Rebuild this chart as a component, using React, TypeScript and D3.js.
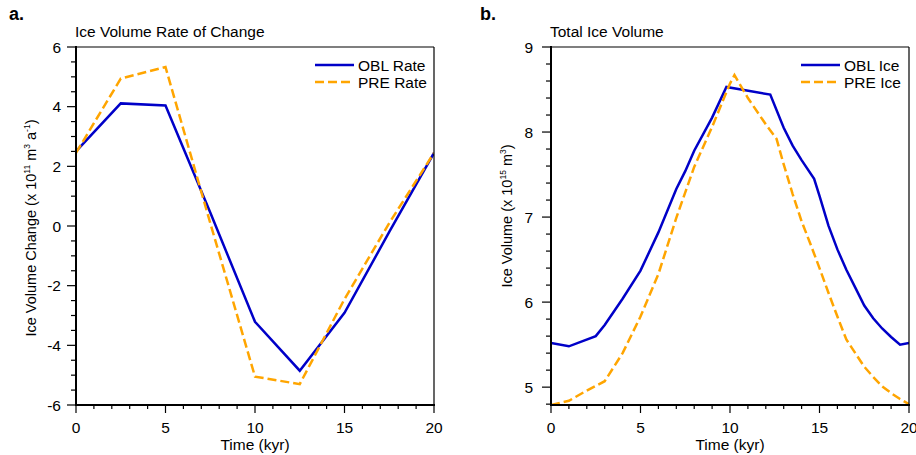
import React, { useEffect, useRef } from 'react';
import * as d3 from 'd3';

// panel a: rate of change (x 10^11 m^3 a^-1)
const rateTime = [0, 2.5, 5, 7.5, 10, 12.5, 15, 17.5, 20];
const oblRate = [2.5, 4.11, 4.04, 0.45, -3.21, -4.85, -2.91, -0.2, 2.45];
const preRate = [2.45, 4.94, 5.33, 0.1, -5.05, -5.3, -2.45, 0.1, 2.45];

// panel b: total ice volume (x 10^15 m^3)
const oblIceTime = [0, 1, 2.5, 3, 4, 5, 6, 7, 7.5, 8, 9, 9.8, 12.25, 13, 13.5, 14, 14.7, 15, 15.5, 16, 16.5, 17, 17.5, 18, 18.5, 19, 19.5, 20];
const oblIce = [5.52, 5.48, 5.6, 5.73, 6.04, 6.37, 6.82, 7.33, 7.54, 7.78, 8.17, 8.53, 8.44, 8.05, 7.84, 7.67, 7.45, 7.25, 6.9, 6.62, 6.38, 6.17, 5.96, 5.81, 5.69, 5.59, 5.5, 5.52];
const preIceTime = [0, 1, 2, 3, 4, 5, 6, 7, 8, 9, 10, 10.25, 11, 12, 12.6, 13, 13.5, 14, 14.5, 15, 15.5, 16, 16.5, 17, 17.5, 18, 18.5, 19, 19.5, 20];
const preIce = [4.79, 4.84, 4.96, 5.07, 5.4, 5.83, 6.33, 6.99, 7.59, 8.06, 8.57, 8.67, 8.4, 8.09, 7.92, 7.62, 7.27, 6.95, 6.68, 6.4, 6.11, 5.83, 5.56, 5.4, 5.24, 5.12, 5.01, 4.93, 4.86, 4.8];

const xTicks = [0, 5, 10, 15, 20];
const rateTicks = [-6, -4, -2, 0, 2, 4, 6];
const iceTicks = [5, 6, 7, 8, 9];

const BLUE = '#0000C8';
const ORANGE = '#FFA500';
const FONT = 'Liberation Sans, Arial, Helvetica, sans-serif';
const FS = 15.5;

type Panel = {
  left: number;
  right: number;
  yDomain: [number, number];
  yMajor: number[];
  yMinorStep: number;
  yMinorStart: number;
  letter: string;
  letterX: number;
  title: string;
  labelRight: number;
  yLabelX: number;
  yLabelY: number;
  yLabel: [string, string][];
  series: { t: number[]; v: number[]; color: string; dash: string | null; name: string }[];
  legendX: number;
};

const App = () => {
  const svgRef = useRef<SVGSVGElement>(null);

  useEffect(() => {
    const svg = d3.select(svgRef.current);
    svg.selectAll('*').remove();

    const top = 47;
    const bottom = 405;

    const panels: Panel[] = [
      {
        left: 76, right: 434, yDomain: [-6, 6], yMajor: rateTicks, yMinorStep: 0.5, yMinorStart: -6,
        letter: 'a.', letterX: 9, title: 'Ice Volume Rate of Change', labelRight: 61,
        yLabelX: 36, yLabelY: 228,
        yLabel: [['Ice Volume Change (x 10', ''], ['11', 'sup'], [' m', ''], ['3', 'sup'], [' a', ''], ['-1', 'sup'], [')', '']],
        series: [
          { t: rateTime, v: oblRate, color: BLUE, dash: null, name: 'OBL Rate' },
          { t: rateTime, v: preRate, color: ORANGE, dash: '9,4', name: 'PRE Rate' },
        ],
        legendX: 315,
      },
      {
        left: 551, right: 909, yDomain: [4.79, 9], yMajor: iceTicks, yMinorStep: 0.2, yMinorStart: 4.8,
        letter: 'b.', letterX: 480, title: 'Total Ice Volume', labelRight: 533,
        yLabelX: 512, yLabelY: 216,
        yLabel: [['Ice Volume (x 10', ''], ['15', 'sup'], [' m', ''], ['3', 'sup'], [')', '']],
        series: [
          { t: oblIceTime, v: oblIce, color: BLUE, dash: null, name: 'OBL Ice' },
          { t: preIceTime, v: preIce, color: ORANGE, dash: '9,4', name: 'PRE Ice' },
        ],
        legendX: 801,
      },
    ];

    panels.forEach(p => {
      const x = d3.scaleLinear().domain([0, 20]).range([p.left, p.right]);
      const y = d3.scaleLinear().domain(p.yDomain).range([bottom, top]);
      const g = svg.append('g').attr('font-family', FONT).attr('fill', '#000');

      // panel letter and title
      g.append('text').attr('x', p.letterX).attr('y', 20).attr('font-size', 18).attr('font-weight', 'bold').text(p.letter);
      g.append('text').attr('x', p.left - 1).attr('y', 37).attr('font-size', FS).text(p.title);

      // series lines
      const clip = `clip-${p.letter[0]}`;
      g.append('clipPath').attr('id', clip).append('rect')
        .attr('x', p.left).attr('y', top).attr('width', p.right - p.left).attr('height', bottom - top);
      p.series.forEach(s => {
        const line = d3.line<number>()
          .x((_, i) => x(s.t[i]))
          .y(d => y(d));
        g.append('path')
          .datum(s.v)
          .attr('clip-path', `url(#${clip})`)
          .attr('fill', 'none')
          .attr('stroke', s.color)
          .attr('stroke-width', 2.5)
          .attr('stroke-dasharray', s.dash)
          .attr('d', line);
      });

      // frame
      g.append('line').attr('x1', p.left).attr('x2', p.right).attr('y1', top).attr('y2', top).attr('stroke', '#000').attr('stroke-width', 1.2);
      g.append('line').attr('x1', p.right).attr('x2', p.right).attr('y1', top).attr('y2', bottom).attr('stroke', '#000').attr('stroke-width', 1.2);
      g.append('line').attr('x1', p.left).attr('x2', p.left).attr('y1', top - 1).attr('y2', bottom + 1).attr('stroke', '#000').attr('stroke-width', 2);
      g.append('line').attr('x1', p.left - 1).attr('x2', p.right + 1).attr('y1', bottom).attr('y2', bottom).attr('stroke', '#000').attr('stroke-width', 2);

      // x ticks
      d3.range(0, 21, 1).forEach(k => {
        const major = k % 5 === 0;
        g.append('line').attr('x1', x(k)).attr('x2', x(k)).attr('y1', bottom).attr('y2', bottom + (major ? 8 : 4))
          .attr('stroke', '#000').attr('stroke-width', 1.2);
      });
      xTicks.forEach(k => {
        g.append('text').attr('x', x(k)).attr('y', 433).attr('text-anchor', 'middle').attr('font-size', FS).text(k);
      });
      g.append('text').attr('x', (p.left + p.right) / 2).attr('y', 450).attr('text-anchor', 'middle').attr('font-size', FS).text('Time (kyr)');

      // y ticks
      const nMinor = Math.round((p.yDomain[1] - p.yMinorStart) / p.yMinorStep);
      d3.range(0, nMinor + 1).forEach(i => {
        const v = p.yMinorStart + i * p.yMinorStep;
        const major = p.yMajor.some(m => Math.abs(m - v) < 1e-6);
        g.append('line').attr('x1', p.left).attr('x2', p.left - (major ? 9 : 5)).attr('y1', y(v)).attr('y2', y(v))
          .attr('stroke', '#000').attr('stroke-width', 1.2);
      });
      p.yMajor.forEach(v => {
        g.append('text').attr('x', p.labelRight).attr('y', y(v) + 5.5).attr('text-anchor', 'end').attr('font-size', FS).text(v);
      });

      // y label with superscripts
      const yl = g.append('text')
        .attr('transform', `translate(${p.yLabelX},${p.yLabelY}) rotate(-90)`)
        .attr('text-anchor', 'middle').attr('font-size', 14.5);
      p.yLabel.forEach(([t, kind], i) => {
        const prev = i > 0 ? p.yLabel[i - 1][1] : '';
        const ts = yl.append('tspan').text(t);
        if (kind === 'sup') ts.attr('font-size', 8.5).attr('dy', prev === 'sup' ? 0 : -6);
        else ts.attr('dy', prev === 'sup' ? 6 : 0);
      });

      // legend
      p.series.forEach((s, i) => {
        const ly = 65 + i * 17;
        g.append('line').attr('x1', p.legendX).attr('x2', p.legendX + 39).attr('y1', ly).attr('y2', ly)
          .attr('stroke', s.color).attr('stroke-width', 2.5).attr('stroke-dasharray', s.dash);
        g.append('text').attr('x', p.legendX + 43).attr('y', ly + 5.5).attr('font-size', FS).text(s.name);
      });
    });
  }, []);

  return (
    <svg ref={svgRef} width={916} height={455} style={{ position: 'absolute', left: 0, top: 0, background: '#fff' }} />
  );
};

export default App;
